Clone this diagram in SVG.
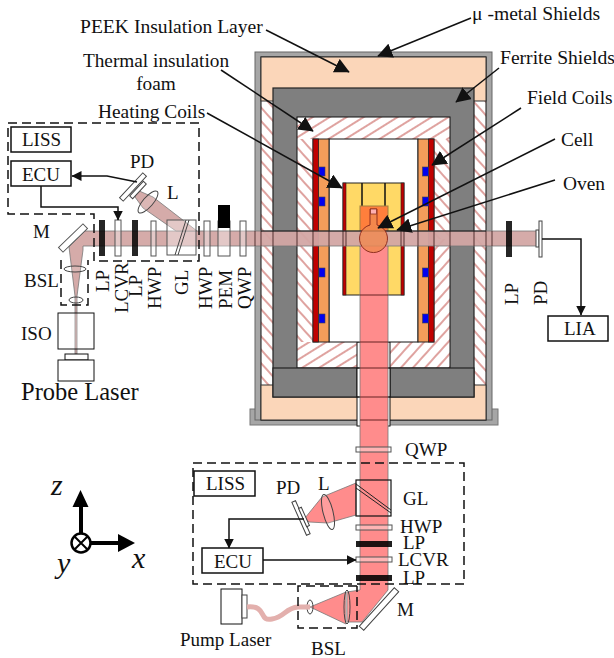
<svg xmlns="http://www.w3.org/2000/svg" width="614" height="658" viewBox="0 0 614 658">
<style>
text{font-family:"Liberation Serif","Times New Roman",serif;fill:#111;font-size:19px}
.box{fill:#fff;stroke:#111;stroke-width:1.5}
.opt{fill:#fff;fill-opacity:.35;stroke:#555;stroke-width:1}
.blk{fill:#000;fill-opacity:.85}
.dash{fill:none;stroke:#111;stroke-width:1.5;stroke-dasharray:9 5}
.ln{fill:none;stroke:#111;stroke-width:1.5}
.la{fill:none;stroke:#111;stroke-width:1.5;marker-end:url(#a)}
.lb{fill:none;stroke:#111;stroke-width:1.5;marker-end:url(#b)}
.pb{fill:#d3a7a4;fill-opacity:.95;stroke:#777;stroke-width:.8}
.pu{fill:#ff8c8c;stroke:#777;stroke-width:.8}
.blue{fill:#0000f0;stroke:#444;stroke-width:.6}
.lens{fill:#fff;fill-opacity:.15;stroke:#444;stroke-width:1}
.gray{fill:#7f7f7f;stroke:#222;stroke-width:1.2}
.peek{fill:#fbd6b9;stroke:#333;stroke-width:1}
.edge{fill:none;stroke:#111;stroke-width:1}
</style>
<defs>
<marker id="a" viewBox="0 0 10 10" refX="9.500" refY="5" markerWidth="10" markerHeight="10" markerUnits="userSpaceOnUse" orient="auto"><path d="M0 0L10 5L0 10z" fill="#111"/></marker>
<marker id="b" viewBox="0 0 10 10" refX="9.500" refY="5" markerWidth="15" markerHeight="15" markerUnits="userSpaceOnUse" orient="auto"><path d="M0 0L10 5L0 10z" fill="#111"/></marker>
<pattern id="h1" width="9" height="9" patternUnits="userSpaceOnUse" patternTransform="rotate(-32)"><rect width="9" height="9" fill="#fff"/><rect y="3" width="9" height="2" fill="#dfa3a0"/></pattern>
<pattern id="h2" width="9" height="9" patternUnits="userSpaceOnUse" patternTransform="rotate(48)"><rect width="9" height="9" fill="#fff"/><rect y="3" width="9" height="2" fill="#dfa3a0"/></pattern>
<pattern id="h3" width="9" height="9" patternUnits="userSpaceOnUse" patternTransform="rotate(-48)"><rect width="9" height="9" fill="#fff"/><rect y="3" width="9" height="2" fill="#dfa3a0"/></pattern>
</defs>

<g id="enclosure">
<rect x="250" y="409" width="248" height="16" fill="#a6a6a6" stroke="#777"/>
<rect x="255" y="52" width="237" height="368" fill="#a6a6a6" stroke="#666"/>
<rect x="261" y="57" width="225" height="363" fill="url(#h2)" stroke="#111"/>
<rect x="261" y="57" width="225" height="44" class="peek"/>
<rect x="261" y="385" width="225" height="35" class="peek"/>
<rect x="273" y="88" width="201" height="309" class="gray"/>
<rect x="297" y="117" width="153" height="251" fill="url(#h1)"/>
<rect x="297" y="139" width="16" height="203" fill="url(#h2)"/>
<rect x="434" y="139" width="16" height="100" fill="url(#h2)"/>
<rect x="434" y="239" width="16" height="129" fill="url(#h3)"/>
<rect x="390" y="342" width="60" height="26" fill="url(#h3)"/>
<rect x="297" y="117" width="153" height="251" class="edge"/>
<rect x="273" y="368" width="84" height="29" class="gray"/>
<rect x="390" y="368" width="84" height="29" class="gray"/>
<rect x="357" y="342" width="33" height="84" fill="#fff" stroke="#111"/>
<path d="M357 368H390M357 397H390" class="ln"/>
</g>
<g id="field-coils">
<rect x="329" y="139" width="89" height="203" fill="#fff" stroke="#111"/>
<rect x="313" y="139" width="16" height="203" fill="#f49d5a" stroke="#222"/>
<rect x="313" y="139" width="5.500" height="203" fill="#c00000" stroke="#222" stroke-width=".8"/>
<rect x="418" y="139" width="16" height="203" fill="#f49d5a" stroke="#222"/>
<rect x="428.500" y="139" width="5.500" height="203" fill="#c00000" stroke="#222" stroke-width=".8"/>
<rect class="blue" x="319" y="167" width="6" height="9"/><rect class="blue" x="319" y="197" width="6" height="9"/><rect class="blue" x="319" y="268" width="6" height="9"/><rect class="blue" x="319" y="314" width="6" height="9"/>
<rect class="blue" x="422.500" y="167" width="6" height="9"/><rect class="blue" x="422.500" y="197" width="6" height="9"/><rect class="blue" x="422.500" y="268" width="6" height="9"/><rect class="blue" x="422.500" y="314" width="6" height="9"/>
</g>
<g id="oven">
<rect x="343" y="183" width="61" height="112" fill="#ffd966" stroke="#222"/>
<rect x="343" y="183" width="3" height="112" fill="#c00000" stroke="#222" stroke-width=".6"/>
<rect x="401" y="183" width="3" height="112" fill="#c00000" stroke="#222" stroke-width=".6"/>
<path d="M362 183V231M385 183V231" class="ln"/>
<rect x="360" y="206" width="28" height="40" fill="#ff7f3c" stroke="#a08040"/>
</g>
<g id="pump-beam">
<path class="pu" d="M360 245H388V590L362 622H347V592L360 590z"/>
<path d="M360 295H388M360 342H388M360 368H388M360 397H388M360 420H388" fill="none" stroke="#622" stroke-width="1"/>
</g>
<g id="probe-beam">
<path class="pb" d="M69 247L85 231H541V246H83V250L77 296V354H75V296z"/>
<path d="M255 231V246M261 231V246M273 231V246M297 231V246M313 231V246M329 231V246M343 231V246M346 231V246M401 231V246M404 231V246M418 231V246M434 231V246M450 231V246M474 231V246M486 231V246M492 231V246" fill="none" stroke="#3a1a1a" stroke-width="1" stroke-opacity=".8"/>
<path d="M261 231H486" fill="none" stroke="#111" stroke-width="1.200"/>
</g>
<g id="cell">
<path d="M370 209H377V225A14 14 0 1 1 370 225z" fill="#f08a50" fill-opacity=".8" stroke="#903020"/>
<rect x="370.500" y="209" width="6" height="5" fill="#ffb0b0" stroke="#903020" stroke-width=".8"/>
</g>

<g id="probe-optics">
<rect x="58" y="313" width="36" height="36" fill="#fff" fill-opacity=".2" stroke="#111"/>
<rect x="65" y="354" width="23" height="6" fill="#fff" stroke="#111"/>
<rect x="58" y="360" width="36" height="21" fill="#fff" stroke="#111"/>
<rect class="box" x="11" y="127" width="60" height="25"/>
<rect class="box" x="11" y="161" width="60" height="25"/>
<rect x="-17" y="-3.250" width="34" height="6.500" fill="#fff" stroke="#555" transform="translate(73 238) rotate(-44)"/>
<ellipse cx="75" cy="269" rx="11" ry="3" class="lens"/>
<ellipse cx="76" cy="300" rx="7" ry="3" class="lens"/>
<rect x="99" y="220" width="6" height="36" class="blk"/>
<rect x="115" y="220" width="6" height="36" class="opt"/>
<rect x="132" y="220" width="6" height="36" class="blk"/>
<rect x="151" y="221" width="5" height="35" class="opt"/>
<path class="pb" d="M137 190L153 197L197 231H176L143 208L135 197z"/>
<rect x="167" y="220" width="29" height="35" class="opt"/>
<path d="M175 255L186 220M178 255L189 220" fill="none" stroke="#444"/>
<rect x="204" y="221" width="6" height="35" class="opt"/>
<rect x="218" y="221" width="12" height="35" class="opt"/>
<rect x="218" y="205" width="12" height="23" fill="#000"/>
<rect x="240" y="221" width="6" height="35" class="opt"/>
<ellipse cx="148" cy="202" rx="14" ry="5" class="lens" transform="rotate(-49 148 202)"/>
<rect x="-17" y="-2.500" width="34" height="5" fill="#fff" stroke="#444" transform="translate(133 187) rotate(-47)"/>
<rect x="-10" y="-2" width="20" height="4" fill="#fff" stroke="#444" transform="translate(138 190) rotate(-47)"/>
<rect x="506" y="221" width="6" height="36" class="blk"/>
<rect x="536" y="230" width="3" height="17" fill="#fff" stroke="#444"/>
<rect x="539" y="221" width="3" height="36" fill="#fff" stroke="#444"/>
</g>

<g id="pump-optics">
<rect x="356" y="447" width="35" height="5" class="opt"/>
<path class="pu" d="M356 483L322 497L305 518L309 522L328 523L356 515z"/>
<rect x="356" y="480" width="35" height="36" fill="none" stroke="#111" stroke-width="1.200"/>
<path d="M356 484L391 510M356 488L391 513" fill="none" stroke="#222"/>
<ellipse cx="328" cy="512" rx="5" ry="18" class="lens" transform="rotate(-14 328 512)"/>
<rect x="-18" y="-2" width="36" height="4" fill="#fff" stroke="#444" transform="translate(301 518) rotate(66)"/>
<rect x="-10" y="-1.500" width="20" height="3" fill="#fff" stroke="#444" transform="translate(304 517) rotate(66)"/>
<rect x="356" y="525" width="36" height="5" class="opt"/>
<rect x="356" y="541" width="36" height="6" fill="#000" fill-opacity=".88"/>
<rect x="356" y="557" width="36" height="5" class="opt"/>
<rect x="356" y="575" width="36" height="6" fill="#000" fill-opacity=".88"/>
<path class="pu" d="M310 607L346 592V624z"/>
<ellipse cx="310" cy="607" rx="3" ry="7" class="lens"/>
<ellipse cx="347" cy="607" rx="3" ry="17" class="lens"/>
<rect x="-26" y="-3" width="52" height="6" fill="#fff" stroke="#444" transform="translate(379 609) rotate(-47.700)"/>
<rect x="221" y="589" width="21" height="35" fill="#fff" stroke="#111"/>
<rect x="242" y="595" width="5" height="23" fill="#fff" stroke="#444"/>
<path d="M247 607C268 605 258 622 272 619C285 617 285 608 298 607H310" fill="none" stroke="#e3b0ad" stroke-width="5"/>
<rect class="box" x="194" y="471" width="61" height="25"/>
<rect class="box" x="202" y="548" width="61" height="25"/>
<rect class="box" x="548" y="316" width="60" height="25"/>
</g>

<g id="connectors">
<path class="dash" d="M8 123H199V261H94V214H8z"/>
<path class="dash" d="M61 260V305H88V260"/>
<path class="dash" d="M193 463H464V584H193z"/>
<path class="dash" d="M357 586H298V628H357V586"/>
<path class="la" d="M137 182L107 176H72"/>
<path class="la" d="M41 186V207H118V220"/>
<path class="la" d="M304 519H229V548"/>
<path class="la" d="M263 560H356"/>
<path class="la" d="M542 239H581V315"/>
<path class="lb" d="M266 30L349 72"/>
<path class="lb" d="M471 18L378 56"/>
<path class="lb" d="M499 68L456 102"/>
<path class="lb" d="M221 70L313 131"/>
<path class="lb" d="M207 113L342 188"/>
<path class="lb" d="M521 108L432 165"/>
<path class="lb" d="M555 139L378 228"/>
<path class="lb" d="M555 180L397 230"/>
</g>

<g id="axes">
<path d="M81 533V500" stroke="#000" stroke-width="4"/>
<path d="M80.500 490L72.500 507H88.500z" fill="#000"/>
<circle cx="81" cy="543" r="9.500" fill="#fff" stroke="#000" stroke-width="2.500"/>
<path d="M74.500 536.500L87.500 549.500M87.500 536.500L74.500 549.500" stroke="#000" stroke-width="2"/>
<path d="M90 543H122" stroke="#000" stroke-width="4"/>
<path d="M135 543L118 534V552z" fill="#000"/>
<text x="51" y="495" style="font-size:30px;font-style:italic">z</text>
<text x="132" y="568" style="font-size:30px;font-style:italic">x</text>
<text x="57" y="573" style="font-size:30px;font-style:italic">y</text>
</g>

<g id="labels">
<text x="80" y="33" style="font-size:19.600px">PEEK Insulation Layer</text>
<text x="472" y="20" style="font-size:19.600px">μ -metal Shields</text>
<text x="500" y="64" style="font-size:19.600px">Ferrite Shields</text>
<text x="156" y="67" text-anchor="middle" style="font-size:19.300px">Thermal insulation</text>
<text x="156" y="90" text-anchor="middle" style="font-size:19.300px">foam</text>
<text x="98" y="118" style="font-size:19.400px">Heating Coils</text>
<text x="527" y="104" style="font-size:19.400px">Field Coils</text>
<text x="561" y="146" style="font-size:19.400px">Cell</text>
<text x="563" y="190" style="font-size:19.400px">Oven</text>
<text x="22" y="146">LISS</text><text x="22" y="181">ECU</text>
<text x="130" y="168">PD</text><text x="167" y="199">L</text><text x="33" y="238">M</text>
<text x="24" y="287">BSL</text><text x="21" y="340">ISO</text>
<text x="21" y="400" style="font-size:24.500px">Probe Laser</text>
<text transform="translate(109 292) rotate(-90)">LP</text>
<text transform="translate(128 313) rotate(-90)">LCVR</text>
<text transform="translate(142 297) rotate(-90)">LP</text>
<text transform="translate(161 309) rotate(-90)">HWP</text>
<text transform="translate(188 295) rotate(-90)">GL</text>
<text transform="translate(212 309) rotate(-90)">HWP</text>
<text transform="translate(232 309) rotate(-90)">PEM</text>
<text transform="translate(251 309) rotate(-90)">QWP</text>
<text transform="translate(518 305) rotate(-90)">LP</text>
<text transform="translate(547 305) rotate(-90)">PD</text>
<text x="564" y="335">LIA</text>
<text x="405" y="456">QWP</text><text x="206" y="490">LISS</text><text x="276" y="494">PD</text><text x="318" y="490">L</text>
<text x="403" y="505">GL</text><text x="400" y="533">HWP</text><text x="403" y="549">LP</text><text x="398" y="566">LCVR</text><text x="403" y="584">LP</text>
<text x="214" y="568">ECU</text><text x="397" y="616">M</text>
<text x="180" y="646">Pump Laser</text>
<text x="311" y="655">BSL</text>
</g>
</svg>
